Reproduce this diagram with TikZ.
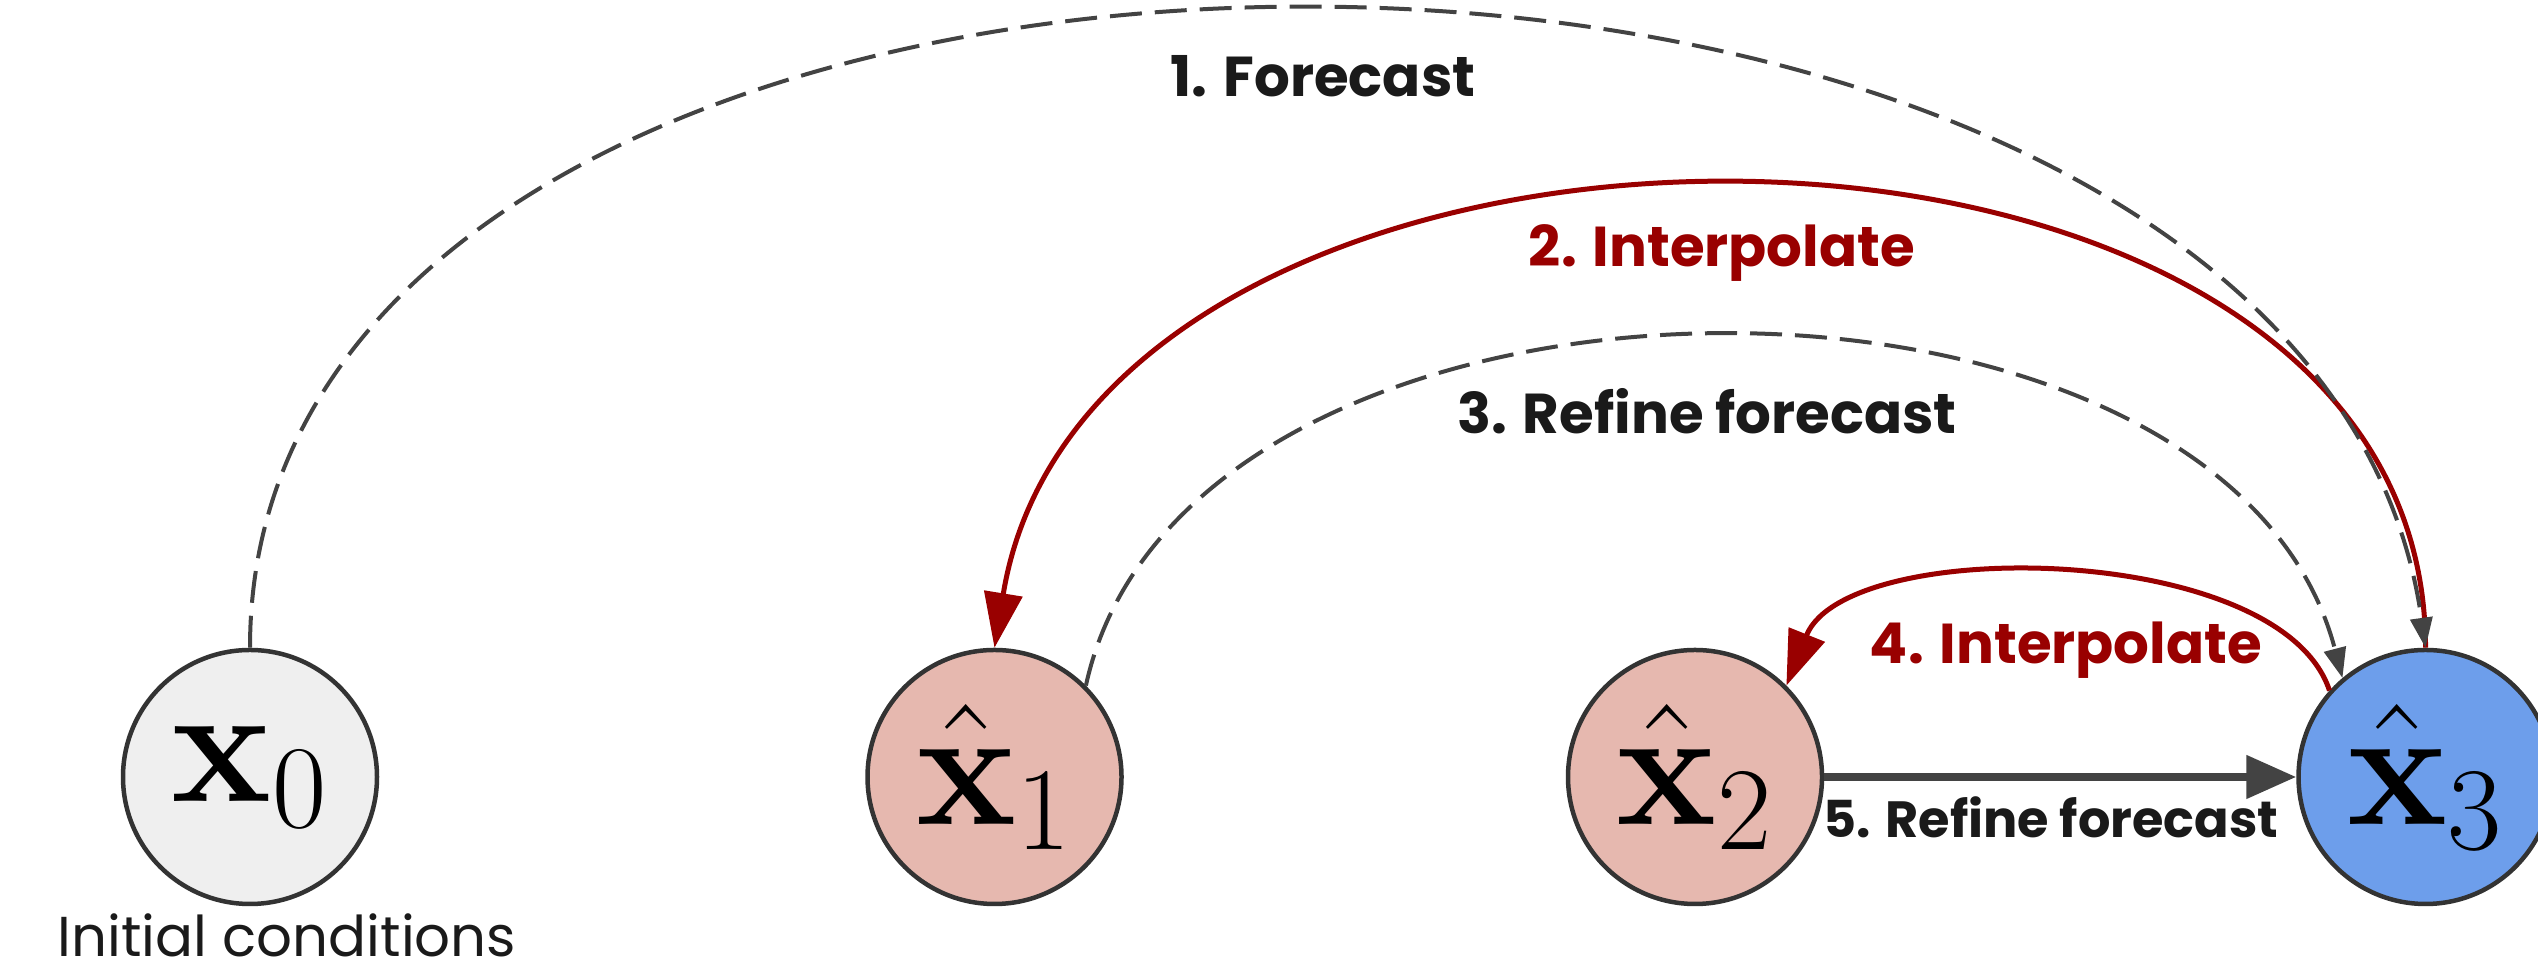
\RequirePackage{fix-cm}
\documentclass[tikz,border=0pt]{standalone}
\usepackage[no-math]{fontspec}
\usepackage{amsmath}
\usepackage{tikz}
\usetikzlibrary{arrows.meta,positioning}
\newfontfamily\lblfont{Poppins}
\definecolor{fcink}{HTML}{1A1A1A}
\definecolor{fcedge}{HTML}{333333}
\definecolor{fcgray}{HTML}{434343}
\definecolor{fcred}{HTML}{990000}
\definecolor{fcinitbg}{HTML}{EFEFEF}
\definecolor{fcpredbg}{HTML}{E6B8AF}
\definecolor{fctargetbg}{HTML}{6D9EEB}
\tikzset{
  state/.style  = {circle, draw=fcedge, line width=0.45mm, minimum size=25.4mm,
                   inner sep=0pt, font=\fontsize{48}{48}\selectfont},
  init/.style   = {state, fill=fcinitbg},
  pred/.style   = {state, fill=fcpredbg},
  target/.style = {state, fill=fctargetbg},
  fcast/.style  = {-{Triangle[length=3mm,width=2.2mm]}, line width=0.4mm,
                   dash pattern=on 3.2mm off 1.3mm, draw=fcgray},
  interp/.style = {-{Triangle[length=5.5mm,width=3.8mm]}, line width=0.5mm, draw=fcred},
  refine/.style = {-{Triangle[length=5mm,width=4.2mm]}, line width=0.8mm, draw=fcgray},
  lbl/.style    = {font=\lblfont\fontsize{16}{18}\selectfont, text=fcink, inner sep=0pt},
  steplbl/.style = {lbl, font=\lblfont\bfseries\fontsize{16}{18}\selectfont, anchor=base},
}

\begin{document}
\begin{tikzpicture}
\useasboundingbox (0,0) rectangle (25.38,9.68);

\node[init] (x0) at (2.50,1.91) {$\mathbf{x}_0$};
\node[pred, right=4.86cm of x0] (x1) {$\hat{\mathbf{x}}_1$};
\node[pred, right=4.42cm of x1] (x2) {$\hat{\mathbf{x}}_2$};
\node[target, right=4.72cm of x2] (x3) {$\hat{\mathbf{x}}_3$};
\node[lbl, below=0.7mm of x0, xshift=3.7mm] (initlbl) {Initial conditions};

\node[steplbl] (l1) at (13.23,8.71) {1. Forecast};
\node[steplbl, text=fcred] (l2) at (17.22,7.01) {2. Interpolate};
\node[steplbl] (l3) at (17.07,5.34) {3. Refine forecast};
\node[steplbl, text=fcred] (l4) at (20.66,3.04) {4. Interpolate};
\node[steplbl, font=\lblfont\bfseries\fontsize{14.5}{16}\selectfont] (l5) at (20.51,1.30) {5. Refine forecast};

\draw[interp] (x3.north) .. controls +(0,6.13) and +(1.0,6.13) .. (x1.north);
\draw[fcast] (x0.north) .. controls +(0,8.5) and +(-1.2,8.5) .. (x3.north);
\draw[fcast] (x1.45) .. controls +(1.0,4.6) and +(-1.2,4.6) .. (x3.130);
\draw[interp] (x3.138) .. controls +(-0.5,1.5) and +(0.6,1.5) .. (x2.45);
\draw[refine] (x2) -- (x3);

\end{tikzpicture}
\end{document}
